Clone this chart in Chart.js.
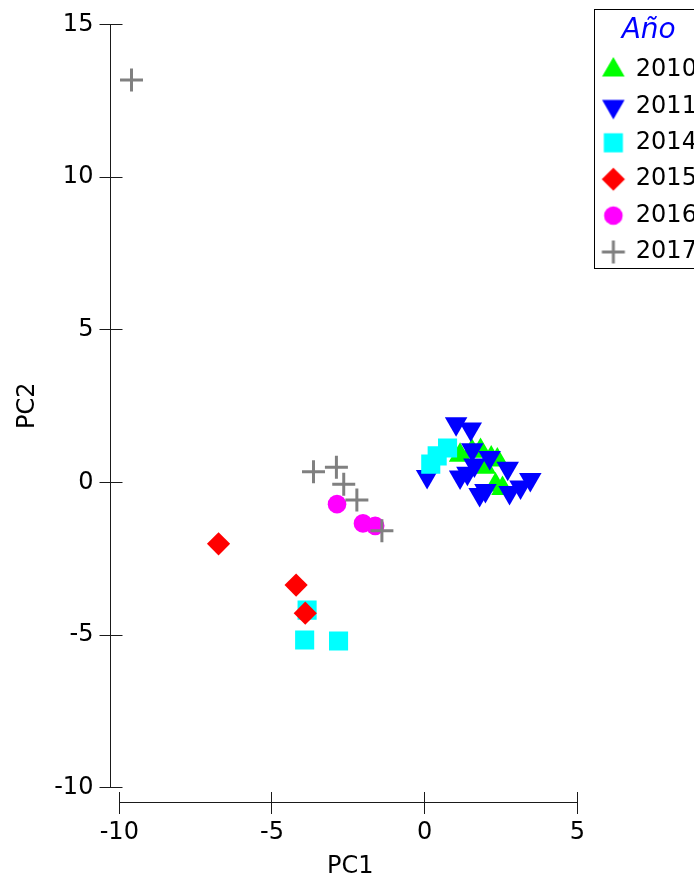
<!DOCTYPE html>
<html>
<head>
<meta charset="utf-8">
<script src="https://cdn.jsdelivr.net/npm/chart.js@4/dist/chart.umd.min.js"></script>
<style>
html,body{margin:0;padding:0;background:#ffffff;overflow:hidden}
#wrap{position:relative;width:694px;height:879px}
canvas{display:block}
</style>
</head>
<body>
<div id="wrap"><canvas id="c" width="694" height="879"></canvas></div>
<script>
// ---- data ----
const years = ['2010', '2011', '2014', '2015', '2016', '2017'];

const pc1_2010 = [1.16, 1.55, 1.83, 2.18, 2.38, 2.32, 2.55, 1.97];
const pc2_2010 = [0.89, 1.02, 1.05, 0.80, 0.74, -0.08, -0.20, 0.50];

const pc1_2011 = [1.03, 1.51, 1.56, 2.13, 2.72, 0.08, 1.16, 1.63, 1.80, 1.99, 2.78, 3.14, 3.46, 1.40];
const pc2_2011 = [1.92, 1.75, 1.07, 0.82, 0.47, 0.20, 0.18, 0.57, -0.39, -0.26, -0.33, -0.15, 0.10, 0.30];

const pc1_2014 = [0.75, 0.41, 0.20, -3.85, -3.93, -2.82];
const pc2_2014 = [1.13, 0.87, 0.60, -4.18, -5.16, -5.19];

const pc1_2015 = [-6.75, -4.21, -3.91];
const pc2_2015 = [-2.01, -3.36, -4.28];

const pc1_2016 = [-2.87, -2.02, -1.62];
const pc2_2016 = [-0.71, -1.34, -1.42];

const pc1_2017 = [-9.60, -3.64, -2.89, -2.65, -2.22, -1.40];
const pc2_2017 = [13.18, 0.35, 0.50, -0.06, -0.57, -1.58];

const xTicks = [-10, -5, 0, 5];
const yTicks = [-10, -5, 0, 5, 10, 15];
const xTitle = 'PC1';
const yTitle = 'PC2';
const legendTitle = 'Año';

// ---- build ----
function pts(xs, ys) { return xs.map((v, i) => ({ x: v, y: ys[i] })); }

Chart.defaults.font.family = "'DejaVu Sans', 'Liberation Sans', sans-serif";
Chart.defaults.color = '#000000';

const LEG_FONT = 24, LEG_PAD = 12.4;

const styles = [
  { pointStyle: 'triangle', pointRadius: 13, pointBackgroundColor: '#00FF00', pointBorderColor: '#00FF00', pointBorderWidth: 0, pointRotation: 0 },
  { pointStyle: 'triangle', pointRadius: 13, pointBackgroundColor: '#0000FF', pointBorderColor: '#0000FF', pointBorderWidth: 0, pointRotation: 180 },
  { pointStyle: 'rect', pointRadius: 13.5, pointBackgroundColor: '#00FFFF', pointBorderColor: '#00FFFF', pointBorderWidth: 0, pointRotation: 0 },
  { pointStyle: 'rectRot', pointRadius: 11.6, pointBackgroundColor: '#FF0000', pointBorderColor: '#FF0000', pointBorderWidth: 0, pointRotation: 0 },
  { pointStyle: 'circle', pointRadius: 9.3, pointBackgroundColor: '#FF00FF', pointBorderColor: '#FF00FF', pointBorderWidth: 0, pointRotation: 0 },
  { pointStyle: 'cross', pointRadius: 11.5, pointBackgroundColor: 'rgba(0,0,0,0)', pointBorderColor: '#808080', pointBorderWidth: 3, pointRotation: 0 }
];
const seriesX = [pc1_2010, pc1_2011, pc1_2014, pc1_2015, pc1_2016, pc1_2017];
const seriesY = [pc2_2010, pc2_2011, pc2_2014, pc2_2015, pc2_2016, pc2_2017];

const datasets = years.map((yr, i) => Object.assign({
  label: yr,
  data: pts(seriesX[i], seriesY[i]),
  showLine: false,
  pointHoverRadius: styles[i].pointRadius,
  order: years.length - i
}, styles[i]));

function markerCanvas(ds) {
  const r = ds.pointRadius, bw = ds.pointBorderWidth || 0;
  let size = Math.ceil(2 * r + 2 * bw + 4);
  if (size % 2) size += 1;
  const c = document.createElement('canvas');
  c.width = size; c.height = size;
  const g = c.getContext('2d');
  g.fillStyle = ds.pointBackgroundColor;
  g.strokeStyle = ds.pointBorderColor;
  g.lineWidth = bw;
  Chart.helpers.drawPoint(g, { pointStyle: ds.pointStyle, radius: r, rotation: ds.pointRotation || 0, borderWidth: bw }, size / 2, size / 2);
  return c;
}

const rAxes = {
  id: 'rAxes',
  beforeDatasetsDraw(chart) {
    const { ctx, scales: { x, y }, chartArea } = chart;
    ctx.save();
    ctx.strokeStyle = '#1a1a1a';
    ctx.lineWidth = 1;
    const ax = Math.floor(chartArea.left) + 0.5;
    const ay = Math.floor(chartArea.bottom) + 0.5;
    const yp = v => Math.floor(y.getPixelForValue(v)) + 0.5;
    const xp = v => Math.floor(x.getPixelForValue(v)) + 0.5;
    ctx.beginPath();
    ctx.moveTo(ax, yp(yTicks[0]));
    ctx.lineTo(ax, yp(yTicks[yTicks.length - 1]));
    yTicks.forEach(v => { ctx.moveTo(ax - 11, yp(v)); ctx.lineTo(ax + 12, yp(v)); });
    ctx.moveTo(xp(xTicks[0]), ay);
    ctx.lineTo(xp(xTicks[xTicks.length - 1]), ay);
    xTicks.forEach(v => { ctx.moveTo(xp(v), ay - 10.5); ctx.lineTo(xp(v), ay + 11.5); });
    ctx.stroke();
    ctx.restore();
  },
  afterDraw(chart) {
    const lg = chart.legend;
    if (!lg || !lg.legendItems || !lg.legendItems.length) return;
    const n = lg.legendItems.length;
    const th = typeof lg._computeTitleHeight === 'function' ? lg._computeTitleHeight() : 36.6;
    const ctx = chart.ctx;
    const left = Math.floor(lg.left + 3.9) + 0.5;
    const top = Math.floor(lg.top) + 0.5;
    const bottom = Math.floor(lg.top + th + LEG_PAD + n * (LEG_FONT + LEG_PAD) - LEG_PAD + 4.7) + 0.5;
    ctx.save();
    ctx.strokeStyle = '#000000';
    ctx.lineWidth = 1;
    ctx.strokeRect(left, top, chart.width + 20 - left, bottom - top);
    ctx.restore();
  }
};

new Chart(document.getElementById('c'), {
  type: 'scatter',
  data: { datasets },
  plugins: [rAxes],
  options: {
    responsive: false,
    animation: false,
    events: [],
    layout: { autoPadding: false, padding: { top: 9, right: -12.9, bottom: 0, left: 0 } },
    scales: {
      x: {
        type: 'linear',
        min: -10.305,
        max: 5.429,
        grid: { display: false, drawTicks: false },
        border: { display: false },
        afterBuildTicks: s => { s.ticks = xTicks.map(v => ({ value: v })); },
        afterFit: s => { s.height = 76.7; s.paddingLeft = 0; s.paddingRight = 0; },
        ticks: { padding: 15.7, color: '#000000', font: { size: 24, lineHeight: 1.2 }, maxRotation: 0, autoSkip: false },
        title: { display: true, text: xTitle, color: '#000000', font: { size: 24, lineHeight: 1 }, padding: { top: 0, bottom: 0.3 } }
      },
      y: {
        type: 'linear',
        min: -10.475,
        max: 15.508,
        grid: { display: false, drawTicks: false },
        border: { display: false },
        afterBuildTicks: s => { s.ticks = yTicks.map(v => ({ value: v })); },
        afterFit: s => { s.width = 110; s.paddingTop = 0; s.paddingBottom = 0; },
        ticks: { padding: 16.6, color: '#000000', font: { size: 24, lineHeight: 1.2 }, autoSkip: false },
        title: { display: true, text: yTitle, color: '#000000', font: { size: 24, lineHeight: 1 }, padding: { top: 15.5, bottom: 0 } }
      }
    },
    plugins: {
      tooltip: { enabled: false },
      legend: {
        position: 'right',
        align: 'start',
        title: {
          display: true,
          text: legendTitle,
          color: '#0000FF',
          font: { size: 28, style: 'italic', lineHeight: 1 },
          padding: { top: 7.3, bottom: 1.3 }
        },
        labels: {
          usePointStyle: true,
          boxWidth: 21,
          boxHeight: 17,
          padding: LEG_PAD,
          color: '#000000',
          font: { size: LEG_FONT },
          sort: (a, b) => a.datasetIndex - b.datasetIndex,
          generateLabels: chart => {
            const items = Chart.defaults.plugins.legend.labels.generateLabels(chart);
            items.forEach(it => {
              const ds = chart.data.datasets[it.datasetIndex];
              it.pointStyle = markerCanvas(ds);
              it.rotation = 0;
            });
            return items;
          }
        }
      }
    }
  }
});
</script>
</body>
</html>
